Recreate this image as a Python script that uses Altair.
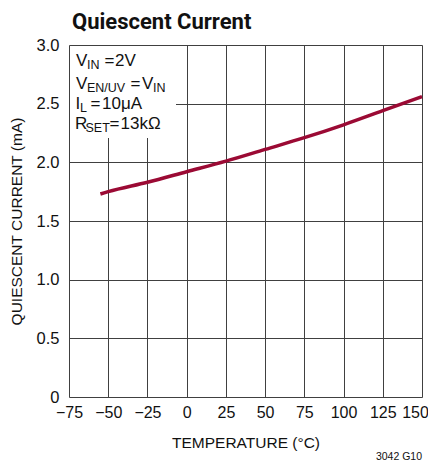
import altair as alt
import pandas as pd

# ---- data ----
temperature = [-55, -50, -25, 0, 25, 50, 75, 100, 125, 150]
quiescent_ma = [1.73, 1.75, 1.83, 1.92, 2.01, 2.11, 2.21, 2.32, 2.44, 2.56]

x_ticks = [-75, -50, -25, 0, 25, 50, 75, 100, 125, 150]
y_ticks = [0, 0.5, 1.0, 1.5, 2.0, 2.5, 3.0]

FONT = "Liberation Sans, Arial, sans-serif"
TITLE_FONT = "Roboto, Liberation Sans, sans-serif"
LINE_COLOR = "#9b0a34"
GRID_COLOR = "#404040"

W, H = 353, 352

df = pd.DataFrame({"t": temperature, "i": quiescent_ma})

xscale = alt.Scale(domain=[-75, 150], nice=False, zero=False)
yscale = alt.Scale(domain=[0, 3], nice=False)

base = alt.Chart(df)

line = base.mark_line(color=LINE_COLOR, strokeWidth=3.5, interpolate="monotone").encode(
    x=alt.X(
        "t:Q",
        scale=xscale,
        axis=alt.Axis(
            values=x_ticks,
            title="TEMPERATURE (°C)",
            grid=True,
            gridColor=GRID_COLOR,
            gridWidth=1,
            gridOpacity=1,
            domain=False,
            ticks=False,
            labelOverlap=False,
            labelFlush=False,
            labelBound=False,
            labelPadding=7,
            labelOffset={"condition": {"test": "datum.value == 150", "value": -7}, "value": 0},
            labelFont=FONT,
            labelFontSize=16,
            labelColor="#111",
            titleFont=FONT,
            titleFontSize=15.5,
            titleFontWeight="normal",
            titleColor="#111",
            titleX=W / 2,
            titleY=50,
            titleBaseline="alphabetic",
            titleAnchor="middle",
        ),
    ),
    y=alt.Y(
        "i:Q",
        scale=yscale,
        axis=alt.Axis(
            values=y_ticks,
            title="QUIESCENT CURRENT (mA)",
            grid=True,
            gridColor=GRID_COLOR,
            gridWidth=1,
            gridOpacity=1,
            domain=False,
            ticks=False,
            labelOverlap=False,
            labelFlush=False,
            labelBound=False,
            labelPadding=10,
            labelFont=FONT,
            labelFontSize=16.5,
            labelColor="#111",
            labelExpr="datum.value == 0 ? '0' : format(datum.value, '.1f')",
            titleFont=FONT,
            titleFontSize=15.5,
            titleFontWeight="normal",
            titleColor="#111",
            titleAngle=270,
            titleX=-48,
            titleY=H / 2,
            titleAlign="center",
            titleBaseline="alphabetic",
        ),
    ),
)

# white box behind the condition text
box = alt.Chart(pd.DataFrame({"a": [0]})).mark_rect(fill="white", stroke=None).encode(
    x=alt.value(1), x2=alt.value(107), y=alt.value(1), y2=alt.value(93)
)

# condition text pieces (text, x, baseline y, size) in plot pixels
notes = [
    ("V", 7, 21, 17), ("IN", 18, 24, 12.5), ("=", 35.5, 21, 17), ("2V", 46, 21, 17),
    ("V", 7, 44, 17), ("EN/UV", 18, 47, 12.5), ("=", 61.5, 44, 17), ("V", 73, 44, 17), ("IN", 84, 47, 12.5),
    ("I", 6.5, 64, 17), ("L", 11, 67, 12.5), ("=", 21.5, 64, 17), ("10μA", 33, 64, 17),
    ("R", 6, 84, 17), ("SET", 16.5, 87, 12.5), ("=", 40.5, 84, 17), ("13kΩ", 51.5, 84, 17),
]
notes_df = pd.DataFrame(notes, columns=["txt", "px", "py", "sz"])
note_text = alt.Chart(notes_df).mark_text(
    align="left", baseline="alphabetic", font=FONT, color="#111"
).encode(
    x=alt.X("px:Q", scale=None),
    y=alt.Y("py:Q", scale=None),
    text="txt:N",
    size=alt.Size("sz:Q", scale=None, legend=None),
)

title = alt.Chart(pd.DataFrame({"txt": ["Quiescent Current"]})).mark_text(
    align="left", baseline="alphabetic", font=TITLE_FONT, fontSize=22, fontWeight="bold", color="#111"
).encode(x=alt.value(3), y=alt.value(-16.5), text="txt:N")

code = alt.Chart(pd.DataFrame({"txt": ["3042 G10"]})).mark_text(
    align="right", baseline="alphabetic", font=FONT, fontSize=10.5, color="#111"
).encode(x=alt.value(W), y=alt.value(415), text="txt:N")

chart = alt.layer(line, box, note_text, title, code).properties(
    width=W,
    height=H,
    autosize=alt.AutoSizeParams(type="none"),
    padding={"left": 61, "top": 37, "right": 6, "bottom": 64},
).configure_view(stroke="#222", strokeWidth=1.6).configure(background="white")

chart.save("out.html", embed_options={"renderer": "svg", "actions": False})
